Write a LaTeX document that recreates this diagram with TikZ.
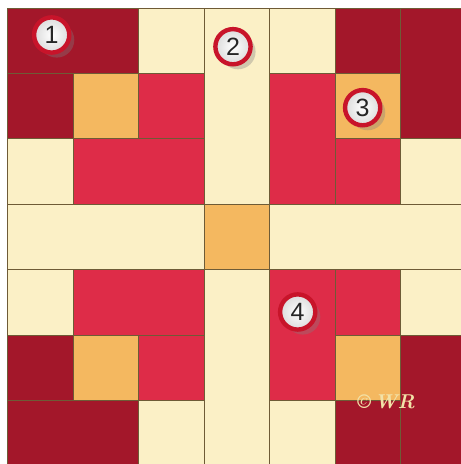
\documentclass[tikz,border=0pt]{standalone}
\usepackage{xcolor}
\usepackage{fontspec}
\newfontfamily\badgefont{Liberation Sans}
\usetikzlibrary{shadows}
\definecolor{quiltdark}{HTML}{A3172A}
\definecolor{quiltred}{HTML}{DE2C48}
\definecolor{quiltgold}{HTML}{F4B860}
\definecolor{quiltcream}{HTML}{FBF0C6}
\definecolor{seam}{HTML}{6E5B36}
\definecolor{ringred}{HTML}{C8142A}
\definecolor{signgold}{HTML}{F2E2A8}
\tikzset{
  patch/.style={draw=seam, line width=0.5pt},
  darkpatch/.style={patch, fill=quiltdark},
  redpatch/.style={patch, fill=quiltred},
  goldpatch/.style={patch, fill=quiltgold},
  creampatch/.style={patch, fill=quiltcream},
  badge/.style={circle, inner color=white, outer color=black!14, draw=ringred, line width=2.2pt,
    minimum size=17.6pt, inner sep=0pt,
    text=black!85, font=\badgefont\fontsize{12.5}{12.5}\selectfont,
    drop shadow={shadow xshift=2.5pt, shadow yshift=-2.5pt, opacity=0.35}},
  signature/.style={text=signgold, font=\bfseries\itshape\fontsize{10}{10}\selectfont}
}

\begin{document}
\begin{tikzpicture}[x=32.75pt, y=-32.75pt]
\useasboundingbox (-0.1221,-0.1221) rectangle (6.916,6.962);
% top left
\filldraw[darkpatch] (0,0) rectangle (2,1);
\filldraw[darkpatch] (0,1) rectangle (1,2);
\filldraw[goldpatch] (1,1) rectangle (2,2);
\filldraw[redpatch] (2,1) rectangle (3,2);
\filldraw[creampatch] (2,0) rectangle (3,1);
\filldraw[creampatch] (0,2) rectangle (1,3);
\filldraw[redpatch] (1,2) rectangle (3,3);
% top right
\filldraw[creampatch] (4,0) rectangle (5,1);
\filldraw[darkpatch] (5,0) rectangle (6,1);
\filldraw[darkpatch] (6,0) rectangle (7,2);
\filldraw[redpatch] (4,1) rectangle (5,3);
\filldraw[goldpatch] (5,1) rectangle (6,2);
\filldraw[redpatch] (5,2) rectangle (6,3);
\filldraw[creampatch] (6,2) rectangle (7,3);
% bottom left
\filldraw[creampatch] (0,4) rectangle (1,5);
\filldraw[redpatch] (1,4) rectangle (3,5);
\filldraw[darkpatch] (0,5) rectangle (1,6);
\filldraw[goldpatch] (1,5) rectangle (2,6);
\filldraw[redpatch] (2,5) rectangle (3,6);
\filldraw[darkpatch] (0,6) rectangle (2,7);
\filldraw[creampatch] (2,6) rectangle (3,7);
% bottom right
\filldraw[redpatch] (4,4) rectangle (5,6);
\filldraw[redpatch] (5,4) rectangle (6,5);
\filldraw[creampatch] (6,4) rectangle (7,5);
\filldraw[goldpatch] (5,5) rectangle (6,6);
\filldraw[darkpatch] (6,5) rectangle (7,7);
\filldraw[darkpatch] (5,6) rectangle (6,7);
\filldraw[creampatch] (4,6) rectangle (5,7);
% cross
\filldraw[creampatch] (3,0) rectangle (4,3);
\filldraw[creampatch] (0,3) rectangle (3,4);
\filldraw[goldpatch] (3,3) rectangle (4,4);
\filldraw[creampatch] (4,3) rectangle (7,4);
\filldraw[creampatch] (3,4) rectangle (4,7);
% labels
\node[badge] (n1) at (0.667,0.412) {1};
\node[badge] (n2) at (3.435,0.591) {2};
\node[badge] (n3) at (5.415,1.522) {3};
\node[badge] (n4) at (4.423,4.641) {4};
\node[signature] (wr) at (5.771,6.015) {\textcopyright\,WR};
\end{tikzpicture}
\end{document}
